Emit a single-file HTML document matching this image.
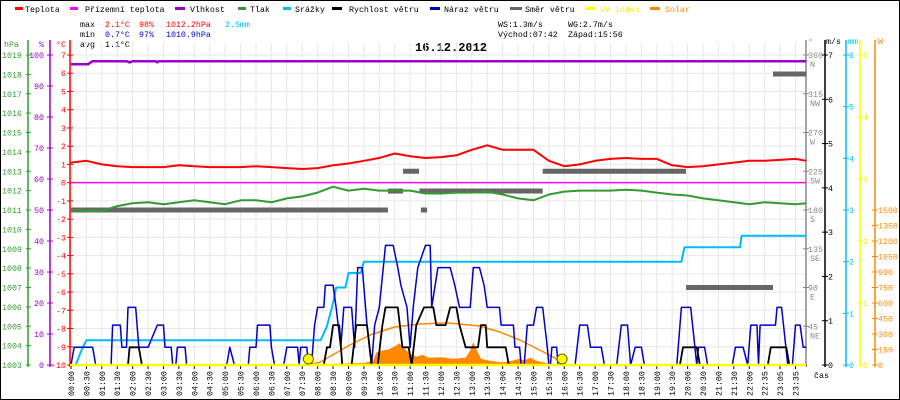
<!DOCTYPE html>
<html><head><meta charset="utf-8"><style>
html,body{margin:0;padding:0;background:#fff}
svg{display:block;font-family:"Liberation Mono",monospace}
</style></head><body>
<svg id="chart" width="900" height="400" viewBox="0 0 900 400">
<rect x="0.5" y="0.5" width="899" height="399" fill="#fff" stroke="#000"/>
<g id="legend" font-size="8.3">
 <g><rect x="15" y="7" width="8" height="3" fill="#f00"/><text x="25" y="12">Teplota</text></g>
 <g><rect x="70" y="7" width="8" height="3" fill="#f0f"/><text x="85" y="12">Přízemní teplota</text></g>
 <g><rect x="175" y="7" width="10" height="3" fill="#90c"/><text x="190" y="12">Vlhkost</text></g>
 <g><rect x="238" y="7" width="8" height="3" fill="#393"/><text x="250" y="12">Tlak</text></g>
 <g><rect x="283" y="7" width="8" height="3" fill="#0bf"/><text x="295" y="12">Srážky</text></g>
 <g><rect x="332" y="7" width="10" height="3" fill="#000"/><text x="349" y="12">Rychlost větru</text></g>
 <g><rect x="430" y="7" width="10" height="3" fill="#00c"/><text x="444" y="12">Náraz větru</text></g>
 <g><rect x="510" y="7" width="12" height="3" fill="#666"/><text x="525" y="12">Směr větru</text></g>
 <g><rect x="585" y="7" width="10" height="3" fill="#ff0"/><text x="600" y="12" fill="#ee0">UV index</text></g>
 <g><rect x="650" y="7" width="10" height="3" fill="#f80"/><text x="665" y="12" fill="#f80">Solar</text></g>
</g>
<g font-size="8.3">
 <text x="80" y="27">max</text><text x="105" y="27" fill="#f00">2.1°C</text><text x="139" y="27" fill="#f00">98%</text><text x="166" y="27" fill="#f00">1012.2hPa</text><text x="225" y="27" fill="#0bf">2.5mm</text>
 <text x="80" y="37">min</text><text x="105" y="37" fill="#00c">0.7°C</text><text x="139" y="37" fill="#00c">97%</text><text x="166" y="37" fill="#00c">1010.9hPa</text>
 <text x="80" y="47">avg</text><text x="105" y="47">1.1°C</text>
 <text x="498" y="27">WS:1.3m/s</text><text x="568" y="27">WG:2.7m/s</text>
 <text x="498" y="37">Východ:07:42</text><text x="568" y="37">Západ:15:56</text>
</g>
<text x="415" y="51" font-size="12" font-weight="bold">16.12.2012</text>
<g id="grid"></g>
<g id="axes"></g>
<g id="series"></g>
<text x="814" y="378" font-size="8.3">čas</text>
</svg>
<script>
// ---- data ----
const timeLabels = ["00:00","00:30","01:00","01:30","02:00","02:30","03:00","03:30","04:00","04:30","05:00","05:30","06:00","06:30","07:00","07:30","08:00","08:30","09:00","09:30","10:00","10:30","11:00","11:30","12:00","12:30","13:00","13:30","14:00","14:30","15:00","15:30","16:00","16:30","17:00","17:30","18:00","18:30","19:00","19:30","20:00","20:30","21:00","21:30","22:00","22:35","23:05","23:35"];
const tempTimes = [0,0.5,1,1.5,2,2.5,3,3.5,4,4.5,5,5.5,6,6.5,7,7.5,8,8.5,9,9.5,10,10.5,11,11.5,12,12.5,13,13.5,14,14.5,15,15.5,16,16.5,17,17.5,18,18.5,19,19.5,20,20.5,21,21.5,22,22.5,23,23.5,23.85];
const tempValues = [1.1,1.2,1.0,0.9,0.85,0.85,0.85,0.95,0.9,0.85,0.85,0.85,0.9,0.85,0.8,0.75,0.8,0.95,1.05,1.2,1.35,1.6,1.45,1.35,1.4,1.5,1.8,2.05,1.8,1.8,1.8,1.2,0.9,1.0,1.2,1.3,1.35,1.3,1.3,0.95,0.85,0.9,1.0,1.1,1.2,1.2,1.25,1.3,1.2];
const apparentTimes = [0,23.85];
const apparentValues = [0,0];
const humTimes = [0,0.55,0.7,1.8,1.9,2.0,2.75,2.8,2.85,23.85];
const humValues = [97,97,98,98,97.6,98,98,97.6,98,98];
const presTimes = tempTimes;
const presValues = [1011.0,1010.95,1010.95,1011.2,1011.35,1011.4,1011.3,1011.4,1011.5,1011.4,1011.3,1011.5,1011.5,1011.4,1011.6,1011.7,1011.9,1012.2,1012.0,1012.1,1012.0,1012.0,1012.0,1011.85,1011.85,1011.9,1011.9,1011.95,1011.8,1011.6,1011.5,1011.8,1011.95,1012.0,1012.0,1012.0,1012.05,1012.0,1011.9,1011.8,1011.75,1011.6,1011.5,1011.4,1011.3,1011.4,1011.35,1011.3,1011.35];
const rainTimes = [0,0.15,0.35,0.5,8.1,8.3,8.5,8.6,8.9,9.0,9.4,9.5,19.8,19.9,21.7,21.75,23.85];
const rainValues = [0,0,0.3,0.48,0.48,0.75,1.2,1.5,1.5,1.78,1.78,2.0,2.0,2.28,2.28,2.5,2.5];
const gustTimes = [0,0.1,0.7,0.8,1.3,1.35,1.6,1.65,1.8,1.85,2.1,2.2,2.5,2.8,3.0,3.05,3.25,3.3,3.4,3.45,3.7,3.75,5.05,5.15,5.3,5.75,5.8,6.0,6.05,6.45,6.5,6.6,6.9,7.0,7.35,7.4,7.45,7.65,7.7,7.8,7.9,8.0,8.2,8.25,8.5,8.6,8.75,8.85,9.1,9.2,9.3,9.45,9.6,9.75,9.85,10.0,10.2,10.45,10.6,10.7,10.9,11.0,11.1,11.25,11.5,11.65,11.7,11.9,12.3,12.45,12.6,12.95,13.05,13.25,13.4,13.5,13.9,13.95,14.35,14.4,14.55,14.6,14.7,14.8,15.0,15.1,15.3,15.45,15.5,15.55,15.6,15.75,15.8,16.35,16.5,16.75,16.85,17.2,17.3,17.7,17.85,18.05,18.15,18.3,18.5,18.6,19.65,19.8,20.1,20.3,20.35,20.55,20.65,21.45,21.55,21.8,21.95,22.05,22.25,22.3,22.35,22.85,22.9,23.05,23.25,23.4,23.5,23.65,23.75,23.85];
const gustValues = [0,0.4,0.4,0,0,0.9,0.9,0.4,0.4,1.3,1.3,0.4,0.4,0.9,0.9,0.4,0.4,0,0,0.4,0.4,0,0,0.4,0,0,0.4,0.4,0.9,0.9,0.4,0,0,0.4,0.4,0,0.4,0.4,0,0,0.9,1.3,1.3,1.8,1.8,1.3,0.4,1.3,1.3,0.4,2.2,2.2,0.9,0,0.9,1.3,2.7,2.7,2.2,1.8,1.3,0.4,1.3,2.2,2.7,2.7,1.3,2.2,2.2,1.8,1.3,1.3,2.2,2.2,1.8,1.3,1.3,0.9,0.9,0.4,0.4,0,0,0.9,0.9,1.3,1.3,0.4,0,0,0.4,0.4,0,0,0.9,0.9,0.4,0.4,0,0,0.9,0.9,0,0.4,0.4,0,0,1.3,1.3,0,0.4,0.4,0,0,0.4,0.4,0,0.9,0.9,0,0.9,0.9,1.3,1.3,0,0,0.9,0.9,0.4,0.4];
const speedTimes = [0,1.85,1.9,2.2,2.3,8.2,8.3,8.4,8.5,8.7,8.8,9.1,9.25,9.6,9.75,9.95,10.1,10.2,10.6,10.75,10.95,11.05,11.2,11.45,11.75,11.85,12.15,12.3,12.5,12.6,12.8,13.2,13.3,13.45,13.5,14.1,14.2,19.75,19.85,20.3,20.4,22.6,22.7,23.2,23.3,23.85];
const speedValues = [0,0,0.4,0.4,0,0,0.4,0.4,0.9,0.9,0,0,0.9,0.9,0,0,0.9,1.3,1.3,0.4,0.4,0,0.9,1.3,1.3,0.9,0.9,1.3,1.3,0.9,0.4,0.4,0.9,0.9,0.4,0.4,0,0,0.4,0.4,0,0,0.4,0.4,0,0];
const dirStart = [0,10.28,10.77,11.3,11.35,11.55,15.3,19.95,22.77];
const dirEnd   = [10.28,10.77,11.29,11.55,11.55,15.3,19.95,22.77,23.85];
const dirDeg   = [180,202,225,202,180,202,225,90,338];
const solarMaxTimes = [7.7,8.1,9.05,9.7,10.5,11.3,12.0,12.3,13.25,13.9,14.56,15.2,15.7,15.93];
const solarMaxValues = [0,30,195,290,368,397,405,405,377,320,242,145,68,0];
const solarTimes = [7.8,8.0,9.0,9.5,9.8,9.9,10.1,10.3,10.5,10.65,10.8,11.0,11.2,11.4,11.6,12.0,12.4,12.8,12.95,13.05,13.15,13.3,13.6,14.0,14.3,14.55,14.7,14.9,15.1,15.4,15.7,15.9];
const solarValues = [0,8,15,20,40,120,140,150,180,210,160,110,80,100,70,75,60,70,140,220,150,60,40,25,40,60,45,70,40,20,10,0];
const sunTimes = [7.7,15.93];
const hpaTicks = [1019,1018,1017,1016,1015,1014,1013,1012,1011,1010,1009,1008,1007,1006,1005,1004,1003];
const humTicks = [100,90,80,70,60,50,40,30,20,10,0];
const tempTicks = [7,6,5,4,3,2,1,0,-1,-2,-3,-4,-5,-6,-7,-8,-9,-10];
const dirTicks = [360,315,270,225,180,135,90,45];
const dirNames = ["N","NW","W","SW","S","SE","E","NE"];
const msTicks = [7,6,5,4,3,2,1,0];
const mmTicks = [6,5,4,3,2,1,0];
const uvTicks = [5,4,3,2,1,0];
const wTicks = [1500,1350,1200,1050,900,750,600,450,300,150,0];

// ---- scales ----
const X0=71, PX_H=30.83, YT=55, YB=365, XR=806;
const xT = t => X0 + t*PX_H;
const yTemp = v => YT + (7-v)*(YB-YT)/17;
const yHum = v => YB - v*(YB-YT)/100;
const yHpa = v => YB - (v-1003)*(YB-YT)/16;
const yDeg = v => YB - v*(YB-YT)/360;
const yMs = v => YB - v*(YB-YT)/7;
const yMm = v => YB - v*(YB-YT)/6;
const yUv = v => YB - v*(YB-YT)/5;
const yW = v => YB - v*(YB-210)/1500;

const NS="http://www.w3.org/2000/svg";
function mk(tag, attrs, parent, txt){const e=document.createElementNS(NS,tag);for(const k in attrs)e.setAttribute(k,attrs[k]);if(txt!==undefined)e.textContent=txt;parent.appendChild(e);return e;}
const grid=document.getElementById('grid'), axes=document.getElementById('axes'), series=document.getElementById('series');

// grid
tempTicks.forEach(v=>{const l=mk('line',{x1:70,x2:XR,y1:yTemp(v),y2:yTemp(v),stroke:'#e8e6e6','stroke-width':1},grid);

});
timeLabels.forEach((s,i)=>{const x=X0+i*PX_H/2;const l=mk('line',{x1:x,x2:x,y1:YT-12,y2:YB,stroke:'#e8e6e6','stroke-width':1},grid);


const tk=mk('line',{x1:x,x2:x,y1:YB,y2:YB+4,stroke:'#000'},axes);


const tx=mk('text',{x:0,y:0,'font-size':8.3,transform:`translate(${x+3},396) rotate(-90)`},axes,s);

});

// left axes
function vAxis(x,color,y1,y2,name){const l=mk('line',{x1:x,x2:x,y1:y1,y2:y2,stroke:color,'stroke-width':1.5},axes);

}
vAxis(28,'#393',40,YB+2,'hpa-axis');vAxis(50,'#90c',40,YB+2,'humidity-axis');vAxis(70,'#f00',40,YB+2,'temp-axis');
vAxis(XR,'#888',40,YB+2,'direction-axis');vAxis(825,'#000',40,YB+2,'wind-speed-axis');vAxis(846,'#0bf',40,YB+2,'rain-axis');vAxis(860,'#ff0',40,YB+2,'uv-axis');vAxis(875,'#f80',40,YB+2,'solar-axis');
function tick(x1,x2,y,color){const t=mk('line',{x1:x1,x2:x2,y1:y,y2:y,stroke:color},axes);

}
function lbl(x,y,s,color,anchor){const t=mk('text',{x:x,y:y,'font-size':8.3,fill:color,'text-anchor':anchor||'start'},axes,s);

}
lbl(4,47,'hPa','#393');lbl(44,47,'%','#90c','end');lbl(66,47,'°C','#f00','end');
hpaTicks.forEach(v=>{const y=yHpa(v);tick(26,31,y,'#393');lbl(2,y+3,v,'#393');});
humTicks.forEach(v=>{const y=yHum(v);tick(47,53,y,'#90c');lbl(44,y+3,v,'#90c','end');});
tempTicks.forEach(v=>{const y=yTemp(v);tick(67,73,y,'#f00');lbl(66,y+3,v,'#f00','end');});
lbl(808,44,'°','#888');lbl(826,44,'m/s','#000');lbl(848,44,'mm','#0bf');lbl(878,44,'W','#f80');
dirTicks.forEach((v,i)=>{const y=yDeg(v);tick(803,809,y,'#888');lbl(808,y+3,v,'#888');lbl(810,y+12,dirNames[i],'#888');});
msTicks.forEach(v=>{const y=yMs(v);tick(822,828,y,'#000');lbl(828,y+3,v,'#000');});
mmTicks.forEach(v=>{const y=yMm(v);tick(843,849,y,'#0bf');lbl(849,y+3,v,'#0bf');});
uvTicks.forEach(v=>{const y=yUv(v);tick(857,863,y,'#ff0');lbl(863,y+3,v,'#ee0');});
wTicks.forEach(v=>{const y=yW(v);tick(872,878,y,'#f80');lbl(878,y+3,v,'#f80');});

// series
function path(ts,vs,ys){return ts.map((t,i)=>(i?'L':'M')+xT(t).toFixed(1)+','+ys(vs[i]).toFixed(1)).join(' ');}
const solarArea=mk('path',{d:path(solarTimes,solarValues,yW)+` L${xT(solarTimes[solarTimes.length-1])},${YB} L${xT(solarTimes[0])},${YB} Z`,fill:'#f80',stroke:'none'},series);


dirStart.forEach((s,i)=>{const y=yDeg(dirDeg[i]);const r=mk('line',{x1:xT(s),x2:xT(dirEnd[i]),y1:y,y2:y,stroke:'#666','stroke-width':5},series);

});
function line(ts,vs,ys,color,w,name){const p=mk('path',{d:path(ts,vs,ys),fill:'none',stroke:color,'stroke-width':w,'stroke-linejoin':'round'},series);

}
line(apparentTimes,apparentValues,yTemp,'#f0f',1.5,'apparent-temperature-line');
line(humTimes,humValues,yHum,'#90c',2.5,'humidity-line');
line(presTimes,presValues,yHpa,'#393',2,'pressure-line');
line(tempTimes,tempValues,yTemp,'#f00',2,'temperature-line');
line(rainTimes,rainValues,yMm,'#0bf',2,'rain-line');
line(solarMaxTimes,solarMaxValues,yW,'#f80',1.5,'solar-max-line');
line(gustTimes,gustValues,yMs,'#00c',1.5,'wind-gust-line');
line(speedTimes,speedValues,yMs,'#000',1.8,'wind-speed-line');
const uv=mk('line',{x1:70,x2:XR,y1:YB,y2:YB,stroke:'#ff0','stroke-width':2.5},series);


sunTimes.forEach(t=>{const c=mk('circle',{cx:xT(t),cy:YB-6,r:5,fill:'#ff0',stroke:'#660','stroke-width':1},series);

});
</script>
</body></html>
